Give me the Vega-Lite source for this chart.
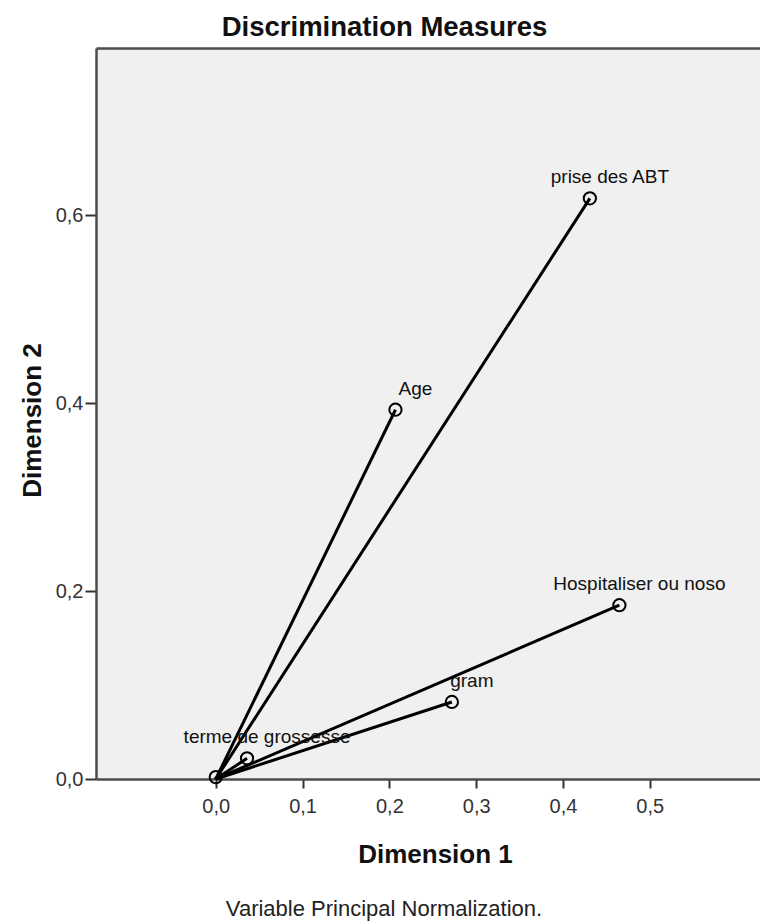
{
  "$schema": "https://vega.github.io/schema/vega-lite/v6.json",
  "autosize": {"type": "none"},
  "padding": {"left": 96, "top": 48, "right": 0, "bottom": 145},
  "width": 664,
  "height": 731,
  "background": "white",
  "title": {
    "text": "Variable Principal Normalization.",
    "orient": "bottom",
    "anchor": "middle",
    "frame": "group",
    "dx": -44,
    "offset": 32,
    "fontSize": 22,
    "fontWeight": "normal",
    "font": "Liberation Sans",
    "color": "#222"
  },
  "data": {
    "values": [
      {"variable": "prise des ABT", "dim1": 0.431, "dim2": 0.618},
      {"variable": "Age", "dim1": 0.207, "dim2": 0.393},
      {"variable": "Hospitaliser ou noso", "dim1": 0.465, "dim2": 0.185},
      {"variable": "gram", "dim1": 0.272, "dim2": 0.082},
      {"variable": "terme de grossesse", "dim1": 0.036, "dim2": 0.022},
      {"variable": "", "dim1": 0.0, "dim2": 0.002}
    ]
  },
  "layer": [
    {
      "mark": {"type": "rule", "color": "#000", "strokeWidth": 3},
      "encoding": {
        "x": {
          "field": "dim1", "type": "quantitative",
          "scale": {"domain": [-0.138, 0.627], "nice": false, "zero": false},
          "axis": {
            "orient": "bottom",
            "title": "Dimension 1",
            "values": [0, 0.1, 0.2, 0.3, 0.4, 0.5],
            "labelExpr": "replace(format(datum.value, '.1f'), '.', ',')",
            "tickSize": 9,
            "labelPadding": 8,
            "titleBaseline": "alphabetic",
            "titleY": 83,
            "titleX": 339
          }
        },
        "y": {
          "field": "dim2", "type": "quantitative",
          "scale": {"domain": [0, 0.778], "nice": false, "zero": false},
          "axis": {
            "title": "Dimension 2",
            "values": [0, 0.2, 0.4, 0.6],
            "labelExpr": "replace(format(datum.value, '.1f'), '.', ',')",
            "tickSize": 11,
            "labelPadding": 2,
            "titleBaseline": "alphabetic",
            "titleX": -56,
            "titleY": 372,
            "titleAngle": -90
          }
        },
        "x2": {"datum": 0},
        "y2": {"datum": 0}
      }
    },
    {
      "mark": {"type": "point", "shape": "circle", "filled": false, "color": "#000", "strokeWidth": 2, "size": 150, "opacity": 1},
      "encoding": {
        "x": {"field": "dim1", "type": "quantitative", "axis": null},
        "y": {"field": "dim2", "type": "quantitative"}
      }
    },
    {
      "mark": {"type": "text", "align": "center", "baseline": "alphabetic", "dx": 20, "dy": -15, "fontSize": 19, "font": "Liberation Sans", "color": "#111"},
      "encoding": {
        "x": {
          "field": "dim1", "type": "quantitative",
          "axis": {
            "orient": "top",
            "title": "Discrimination Measures",
            "titleFontSize": 27.5,
            "titleFontWeight": "bold",
            "titleColor": "#111",
            "labels": false,
            "ticks": false,
            "domain": true,
            "titleBaseline": "alphabetic",
            "titleY": -13,
            "titleX": 288
          }
        },
        "y": {"field": "dim2", "type": "quantitative"},
        "text": {"field": "variable", "type": "nominal"}
      }
    }
  ],
  "resolve": {"axis": {"x": "independent"}},
  "config": {
    "view": {"stroke": null, "fill": "#f0f0f0"},
    "font": "Liberation Sans",
    "axis": {
      "grid": false,
      "domainColor": "#4d4d4d",
      "domainWidth": 2.5,
      "tickColor": "#333",
      "tickWidth": 2,
      "labelColor": "#333",
      "labelFontSize": 20,
      "labelFont": "Liberation Sans",
      "titleFont": "Liberation Sans",
      "titleFontSize": 26,
      "titleFontWeight": "bold",
      "titleColor": "#111"
    }
  }
}
